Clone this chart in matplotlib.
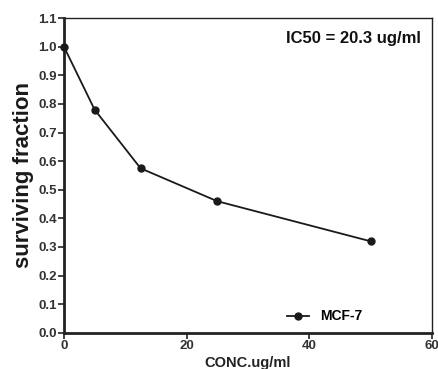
import matplotlib.pyplot as plt

# dose-response data
conc = [0, 5, 12.5, 25, 50]
surviving = [1.0, 0.78, 0.575, 0.46, 0.32]
series_label = 'MCF-7'
x_ticks = [0, 20, 40, 60]
y_ticks = [0.0, 0.1, 0.2, 0.3, 0.4, 0.5, 0.6, 0.7, 0.8, 0.9, 1.0, 1.1]

plt.rcParams['font.family'] = ['Liberation Sans', 'DejaVu Sans']

fig = plt.figure(figsize=(4.38, 3.69), dpi=100)
ax = fig.add_axes([0.146, 0.098, 0.840, 0.853])

ax.plot(conc, surviving, color='#1a1a1a', linewidth=1.3, marker='o',
        markersize=5, label=series_label, clip_on=False, zorder=3)

ax.set_xlim(0, 60)
ax.set_ylim(0, 1.1)
ax.set_xticks(x_ticks)
ax.set_yticks(y_ticks)
ax.set_yticklabels([f'{v:.1f}' for v in y_ticks])
ax.tick_params(axis='both', labelsize=9.5, width=1.2, length=4, color='#222222', pad=1)
for lab in ax.get_xticklabels() + ax.get_yticklabels():
    lab.set_fontweight('bold')
    lab.set_color('#333333')

for side in ['left', 'bottom']:
    ax.spines[side].set_linewidth(2)
for side in ['top', 'right']:
    ax.spines[side].set_linewidth(1)
for s in ax.spines.values():
    s.set_color('#222222')

ax.set_xlabel('CONC.ug/ml', fontsize=10.5, fontweight='bold', labelpad=3, color='#222222')
ax.set_ylabel('surviving fraction', fontsize=16, fontweight='bold', labelpad=3, color='#1a1a1a')

ax.text(0.97, 0.96, 'IC50 = 20.3 ug/ml', transform=ax.transAxes, ha='right', va='top',
        fontsize=12, fontweight='bold', color='#111111')

ax.legend(loc='lower right', bbox_to_anchor=(0.845, -0.01), frameon=False,
          prop={'size': 10, 'weight': 'bold'}, handlelength=1.6, handletextpad=0.8)

fig.savefig('out.png', dpi=100)
